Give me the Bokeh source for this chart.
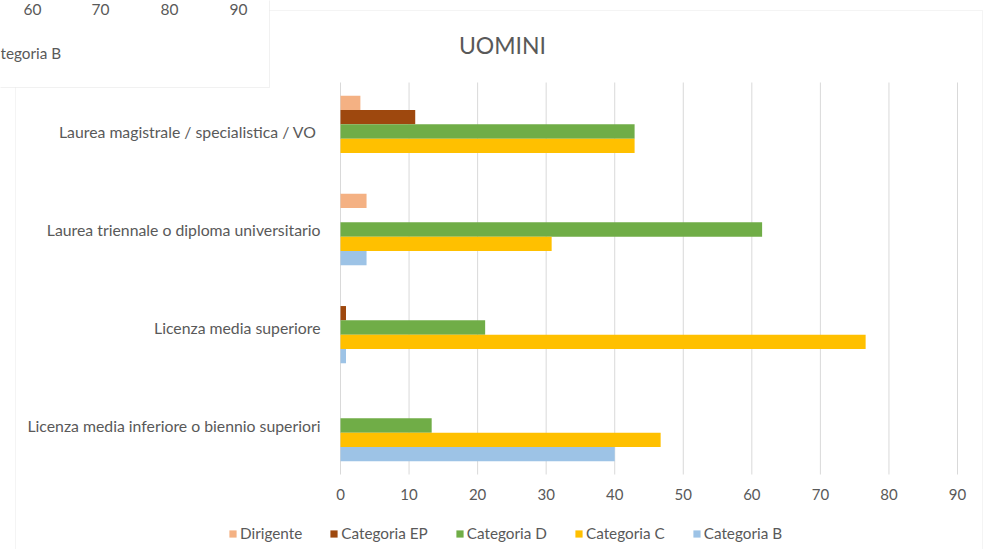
from bokeh.plotting import figure
from bokeh.models import (ColumnDataSource, Range1d, Legend, LegendItem, Label, BoxAnnotation)
from bokeh.core.properties import value
from bokeh.embed import file_html
from bokeh.resources import INLINE

# ---- data ----
categories = [
    "Laurea magistrale / specialistica  / VO",
    "Laurea triennale o diploma universitario",
    "Licenza media superiore",
    "Licenza media inferiore o biennio superiori",
]
series_names = ["Dirigente", "Categoria EP", "Categoria D", "Categoria C", "Categoria B"]
dirigente = [2.9, 3.8, 0.0, 0.0]
categoria_ep = [10.9, 0.0, 0.8, 0.0]
categoria_d = [42.9, 61.5, 21.1, 13.3]
categoria_c = [42.9, 30.8, 76.6, 46.7]
categoria_b = [0.0, 3.8, 0.8, 40.0]
x_ticks = [0, 10, 20, 30, 40, 50, 60, 70, 80, 90]
x_tick_labels = ["0", "10", "20", "30", "40", "50", "60", "70", "80", "90"]
title_text = "UOMINI"
# fragment of the neighbouring chart visible at top-left
prev_ticks = ["60", "70", "80", "90"]
prev_legend = "tegoria B"

colors = ["#F4B183", "#9E480E", "#70AD47", "#FFC000", "#9DC3E6"]
FONT = "Lato"
TXT = "#595959"
GRID = "#D9D9D9"

n = len(categories)
cat_pos = [n - 1 - i for i in range(n)]  # top to bottom

W, H = 983, 549
# plot area in figure pixels
AL, AR, AT, AB = 340, 957, 82, 474
XMIN, XMAX = 0, 90
kx = (AR - AL) / (XMAX - XMIN)
ky = (AB - AT) / n

x_start = XMIN - AL / kx
x_end = XMAX + (W - AR) / kx
y_top = (n - 0.5) + AT / ky
y_bot = -0.5 - (H - AB) / ky

p = figure(width=W, height=H, output_backend="svg", toolbar_location=None,
           x_range=Range1d(x_start, x_end), y_range=Range1d(y_bot, y_top),
           min_border=0, x_axis_location=None, y_axis_location=None)
p.outline_line_color = None
p.xgrid.visible = False
p.ygrid.visible = False
p.background_fill_color = "white"
p.border_fill_color = "white"

# chart border and neighbouring chart box (screen units, origin bottom-left)
p.add_layout(BoxAnnotation(left=15, right=W - 1, top=H - 10, bottom=-50,
                           left_units="screen", right_units="screen",
                           top_units="screen", bottom_units="screen",
                           fill_color=None, line_color="#D9D9D9", line_width=1,
                           level="underlay"))
p.add_layout(BoxAnnotation(left=-20, right=269, top=H + 20, bottom=H - 87,
                           left_units="screen", right_units="screen",
                           top_units="screen", bottom_units="screen",
                           fill_color="white", fill_alpha=1, line_color="#D0D0D0",
                           line_width=1, level="underlay"))

# vertical gridlines
p.segment(x0=x_ticks, x1=x_ticks, y0=-0.5, y1=n - 0.5, line_color=GRID, line_width=1)

# bars
bh = 0.146
offsets = [2 * bh, bh, 0, -bh, -2 * bh]
series = [dirigente, categoria_ep, categoria_d, categoria_c, categoria_b]
renderers = []
for vals, off, col in zip(series, offsets, colors):
    src = ColumnDataSource(dict(y=[c + off for c in cat_pos], right=vals))
    r = p.hbar(y="y", left=0, right="right", height=bh, source=src,
               fill_color=col, line_color=None)
    renderers.append(r)

# axis labels
p.text(x=[0] * n, y=cat_pos, text=categories, x_offset=-20, text_align="right",
       text_baseline="middle", text_font=value(FONT), text_font_size="15.8px",
       text_color=TXT)
p.text(x=x_ticks, y=[-0.5] * len(x_ticks), text=x_tick_labels, y_offset=20,
       text_align="center", text_baseline="middle", text_font=value(FONT),
       text_font_size="15px", text_color=TXT)

# fragment texts of neighbouring chart
for t, cx in zip(prev_ticks, [32, 100, 169, 238]):
    p.add_layout(Label(x=cx, y=H - 9, x_units="screen", y_units="screen", text=t,
                       text_align="center", text_baseline="middle", text_font=FONT,
                       text_font_size="15.5px", text_color=TXT))
p.add_layout(Label(x=0, y=H - 52, x_units="screen", y_units="screen", text=prev_legend,
                   text_align="left", text_baseline="middle", text_font=FONT,
                   text_font_size="15.3px", text_color=TXT))

# title
p.add_layout(Label(x=502, y=H - 44, x_units="screen", y_units="screen", text=title_text,
                   text_align="center", text_baseline="middle", text_font=FONT,
                   text_font_size="23px", text_color=TXT))

# legend
legend = Legend(items=[LegendItem(label=s, renderers=[r]) for s, r in zip(series_names, renderers)],
                orientation="horizontal", location=(228, H - 542),
                glyph_width=9, glyph_height=9, label_height=18, label_standoff=3,
                spacing=27, padding=0, margin=0, border_line_color=None,
                background_fill_alpha=0, label_text_font=FONT,
                label_text_font_size="15.3px", label_text_color=TXT)
p.add_layout(legend, "center")

open("out.html", "w").write(file_html(p, INLINE))
